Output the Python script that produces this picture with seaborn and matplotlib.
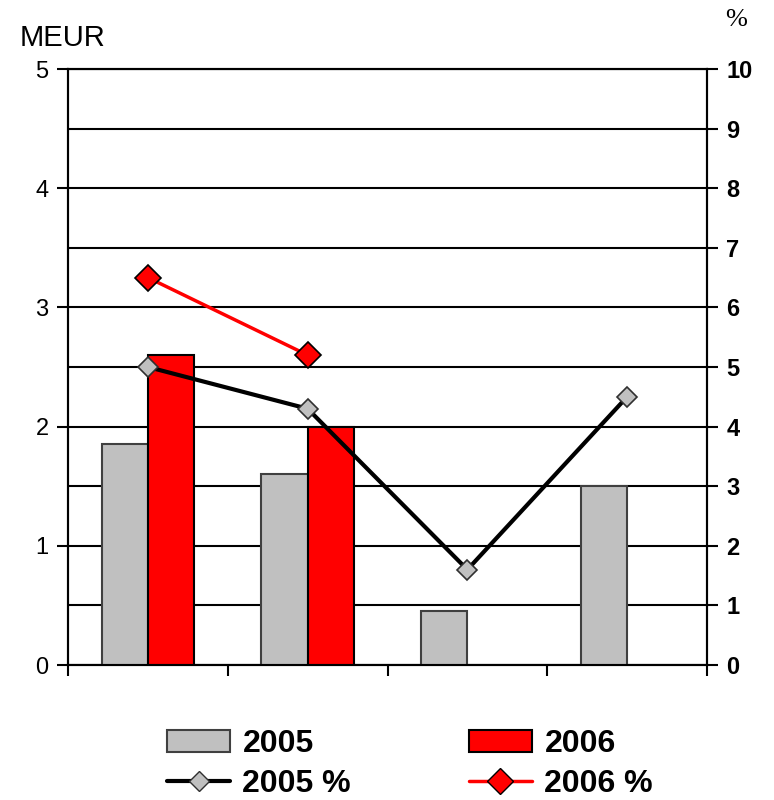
import numpy as np
import pandas as pd
import seaborn as sns
import matplotlib
import matplotlib.pyplot as plt
from matplotlib.ticker import MultipleLocator
from matplotlib.lines import Line2D
from matplotlib.patches import Patch

matplotlib.use("Agg")

# data
categories = ["Q1", "Q2", "Q3", "Q4"]
meur_2005 = [1.85, 1.60, 0.45, 1.50]
meur_2006 = [2.60, 2.00, np.nan, np.nan]
pct_2005 = [5.0, 4.3, 1.6, 4.5]
pct_2006 = [6.5, 5.2, np.nan, np.nan]

sns.set_style("white")
plt.rcParams["font.family"] = ["Liberation Sans", "DejaVu Sans"]
plt.rcParams["text.color"] = "black"
plt.rcParams["xtick.color"] = "black"
plt.rcParams["ytick.color"] = "black"
plt.rcParams["xtick.labelcolor"] = "black"
plt.rcParams["ytick.labelcolor"] = "black"

bars = pd.DataFrame({
    "cat": categories * 2,
    "year": ["2005"] * 4 + ["2006"] * 4,
    "value": meur_2005 + meur_2006,
})

fig = plt.figure(figsize=(7.74, 8.0), dpi=100)
ax = fig.add_axes([68 / 774, 1 - 665 / 800, (707 - 68) / 774, (665 - 69) / 800])

sns.barplot(data=bars, x="cat", y="value", hue="year", order=categories,
            hue_order=["2005", "2006"], palette=["#c0c0c0", "#ff0000"],
            saturation=1, width=0.58, ax=ax, legend=False, zorder=3)
# edge colours per series
for p in ax.containers[0]:
    p.set_edgecolor("#404040")
    p.set_linewidth(1.5)
for p in ax.containers[1]:
    p.set_edgecolor("black")
    p.set_linewidth(1.5)

ax.set_ylim(0, 5)
ax.set_xlim(-0.5, 3.5)
ax.yaxis.set_major_locator(MultipleLocator(1))
ax.yaxis.set_minor_locator(MultipleLocator(0.5))
ax.grid(True, axis="y", which="both", color="black", linewidth=1.5, zorder=0)
ax.set_axisbelow(True)
ax.set_xticks([-0.5, 0.5, 1.5, 2.5, 3.5])
ax.set_xticklabels([])
ax.set_xlabel("")
ax.set_ylabel("")
ax.tick_params(axis="y", which="major", direction="out", length=8, width=1.5,
               labelsize=17, left=True, pad=6)
ax.tick_params(axis="y", which="minor", length=0)
ax.tick_params(axis="x", direction="out", length=8, width=1.5, bottom=True)
for s in ["left", "bottom", "right", "top"]:
    ax.spines[s].set_color("black")
    ax.spines[s].set_linewidth(1.5)

ax2 = ax.twinx()
xpos = np.arange(len(categories))
sns.lineplot(x=xpos, y=pct_2005, ax=ax2, color="black", linewidth=3,
             marker="D", markersize=10, markerfacecolor="#c0c0c0",
             markeredgecolor="#303030", markeredgewidth=1.2, zorder=5)
sns.lineplot(x=xpos, y=pct_2006, ax=ax2, color="#ff0000", linewidth=2.5,
             marker="D", markersize=13, markerfacecolor="#ff0000",
             markeredgecolor="black", markeredgewidth=1.2, zorder=5)
ax2.set_ylim(0, 10)
ax2.set_xlim(-0.5, 3.5)
ax2.yaxis.set_major_locator(MultipleLocator(1))
ax2.tick_params(axis="y", direction="out", length=8, width=1.5, labelsize=17,
                right=True, pad=6)
for lab in ax2.get_yticklabels():
    lab.set_fontweight("bold")
ax2.grid(False)
for s in ["left", "bottom", "right", "top"]:
    ax2.spines[s].set_color("black")
    ax2.spines[s].set_linewidth(1.5)

fig.text(20 / 774, 1 - 38 / 800, "MEUR", fontsize=21, va="center", ha="left")
fig.text(736 / 774, 1 - 20 / 800, "%", fontsize=19, va="center", ha="center",
         family=["Liberation Serif", "DejaVu Serif"])

handles = [
    Patch(facecolor="#c0c0c0", edgecolor="#404040", linewidth=1.5),
    Line2D([], [], color="black", linewidth=3, marker="D", markersize=10,
           markerfacecolor="#c0c0c0", markeredgecolor="#303030"),
    Patch(facecolor="#ff0000", edgecolor="black", linewidth=1.5),
    Line2D([], [], color="#ff0000", linewidth=2.5, marker="D", markersize=13,
           markerfacecolor="#ff0000", markeredgecolor="black"),
]
labels = ["2005", "2005 %", "2006", "2006 %"]
fig.legend(handles, labels, ncol=2, loc="center",
           bbox_to_anchor=(0.530, 1 - 764 / 800),
           frameon=False, prop={"weight": "bold", "size": 23},
           handlelength=1.95, handleheight=0.7, handletextpad=0.4,
           columnspacing=3.7, labelspacing=0.3)

fig.savefig("out.png", dpi=100)
